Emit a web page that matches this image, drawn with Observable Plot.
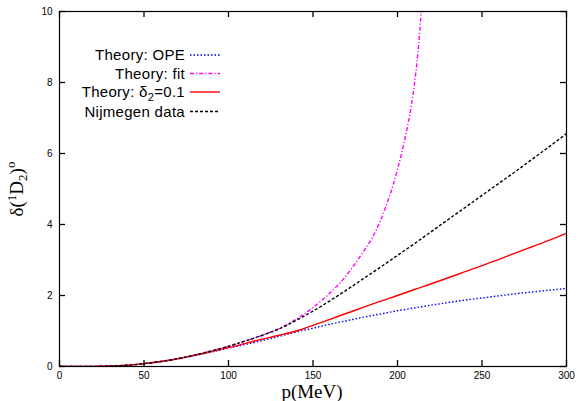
<!DOCTYPE html>
<html>
<head>
<meta charset="utf-8">
<script src="https://cdn.jsdelivr.net/npm/d3@7"></script>
<script src="https://cdn.jsdelivr.net/npm/@observablehq/plot@0.6"></script>
<style>
  html, body { margin: 0; padding: 0; background: #fff; }
  #chart { width: 578px; height: 401px; }
</style>
</head>
<body>
<div id="chart"></div>
<script>
// Momentum grid (MeV)
const pGrid = [0, 10, 20, 30, 40, 50, 60, 70, 80, 90, 100, 110, 120, 130, 140, 150, 160, 170, 180, 190, 200, 210, 220, 230, 240, 250, 260, 270, 280, 290, 300];
// Theory: OPE (degrees)
const opeValues = [0, 0.0, 0.003, 0.012, 0.035, 0.08, 0.14, 0.22, 0.31, 0.41, 0.52, 0.62, 0.73, 0.85, 0.97, 1.08, 1.19, 1.29, 1.39, 1.48, 1.57, 1.65, 1.73, 1.80, 1.87, 1.93, 1.99, 2.05, 2.10, 2.15, 2.20];
// Theory: delta2 = 0.1
const d2Values = [0, 0.0, 0.003, 0.012, 0.035, 0.08, 0.14, 0.22, 0.32, 0.42, 0.53, 0.65, 0.77, 0.88, 1.00, 1.16, 1.33, 1.50, 1.67, 1.84, 2.00, 2.17, 2.33, 2.50, 2.67, 2.84, 3.02, 3.20, 3.38, 3.56, 3.75];
// Nijmegen data
const nijValues = [0, 0.0, 0.003, 0.012, 0.035, 0.08, 0.14, 0.22, 0.32, 0.44, 0.57, 0.72, 0.88, 1.06, 1.30, 1.56, 1.85, 2.16, 2.48, 2.80, 3.13, 3.46, 3.80, 4.14, 4.48, 4.82, 5.16, 5.50, 5.85, 6.20, 6.56];
// Theory: fit (own grid, rises steeply)
const pFit = [0, 10, 20, 30, 40, 50, 60, 70, 80, 90, 100, 110, 120, 130, 140, 150, 160, 170, 175, 180, 185, 190, 195, 200, 205, 208, 210, 212, 213, 214, 215];
const fitValues = [0, 0.0, 0.003, 0.012, 0.035, 0.08, 0.14, 0.22, 0.32, 0.44, 0.57, 0.72, 0.88, 1.07, 1.33, 1.66, 2.07, 2.58, 2.90, 3.25, 3.62, 4.12, 4.76, 5.55, 6.55, 7.30, 7.95, 8.80, 9.35, 10.0, 10.8];

const xTicks = [0, 50, 100, 150, 200, 250, 300];
const yTicks = [0, 2, 4, 6, 8, 10];

const seriesNames = ["Theory: OPE", "Theory: fit", "Theory: δ2=0.1", "Nijmegen data"];
const seriesColors = ["#0000ff", "#ff00ff", "#ff0000", "#000000"];
const seriesDash = ["1.5,2", "4,2,1.2,2", null, "3,2"];

const toRows = (ps, vs) => ps.map((p, i) => ({p, v: vs[i]}));
const allRows = [toRows(pGrid, opeValues), toRows(pFit, fitValues), toRows(pGrid, d2Values), toRows(pGrid, nijValues)];

const tickFont = "Liberation Sans, Arial, Helvetica, sans-serif";
const W = 578, H = 401, mL = 59, mR = 12, mT = 11, mB = 35;
const frameW = W - mL - mR, frameH = H - mT - mB, tickLen = 6;

const chart = Plot.plot({
  width: W,
  height: H,
  marginLeft: mL,
  marginRight: mR,
  marginTop: mT,
  marginBottom: mB,
  style: {fontFamily: tickFont, fontSize: "10px", color: "#000", background: "#fff", overflow: "visible"},
  x: {domain: [0, 300]},
  y: {domain: [0, 10]},
  marks: [
    Plot.axisX(xTicks, {tickSize: 0, tickPadding: 5, label: null, fontSize: 10}),
    Plot.axisY(yTicks, {tickSize: 0, tickPadding: 7, label: null, fontSize: 10}),
    ...allRows.map((rows, i) => Plot.line(rows, {
      x: "p", y: "v",
      stroke: seriesColors[i],
      strokeWidth: 1.4,
      strokeDasharray: seriesDash[i],
      strokeLinecap: "butt",
      curve: "monotone-x",
      clip: true
    })),
    // inward ticks on all four sides
    Plot.tickX(xTicks, {x: d => d, insetTop: frameH - tickLen, stroke: "#000", strokeWidth: 1.3}),
    Plot.tickX(xTicks, {x: d => d, insetBottom: frameH - tickLen, stroke: "#000", strokeWidth: 1.3}),
    Plot.tickY(yTicks, {y: d => d, insetRight: frameW - tickLen, stroke: "#000", strokeWidth: 1.3}),
    Plot.tickY(yTicks, {y: d => d, insetLeft: frameW - tickLen, stroke: "#000", strokeWidth: 1.3}),
    Plot.frame({stroke: "#000", strokeWidth: 1.2})
  ]
});

document.getElementById("chart").appendChild(chart);

const svg = d3.select(chart);
const serif = "Liberation Serif, Times New Roman, Times, serif";

// x axis label
svg.append("text")
  .attr("x", 312).attr("y", 397.5)
  .attr("text-anchor", "middle")
  .attr("font-family", serif).attr("font-size", 19)
  .attr("fill", "#000")
  .text("p(MeV)");

// y axis label δ(¹D₂)°
const yl = svg.append("text")
  .attr("transform", "translate(23,189) rotate(-90)")
  .attr("text-anchor", "middle")
  .attr("font-family", serif).attr("font-size", 19)
  .attr("fill", "#000");
yl.append("tspan").text("δ(");
yl.append("tspan").attr("font-size", 13).attr("dy", -7).text("1");
yl.append("tspan").attr("dy", 7).text("D");
yl.append("tspan").attr("font-size", 13).attr("dy", 4).text("2");
yl.append("tspan").attr("dy", -4).text(")");
yl.append("tspan").attr("font-size", 13).attr("dy", -8).text("o");

// legend
const legend = svg.append("g").attr("font-family", tickFont).attr("font-size", 15).attr("letter-spacing", "0.3px").attr("fill", "#000");
const rowY = [55, 73.5, 92, 111.5];
seriesNames.forEach((name, i) => {
  const y = rowY[i];
  const t = legend.append("text")
    .attr("x", 185).attr("y", y + 5)
    .attr("text-anchor", "end");
  if (name.includes("δ2")) {
    t.append("tspan").text("Theory: δ");
    t.append("tspan").attr("font-size", 11).attr("dy", 4).text("2");
    t.append("tspan").attr("dy", -4).text("=0.1");
  } else {
    t.text(name);
  }
  legend.append("line")
    .attr("x1", 190).attr("x2", 220)
    .attr("y1", y).attr("y2", y)
    .attr("stroke", seriesColors[i])
    .attr("stroke-width", 1.4)
    .attr("stroke-dasharray", seriesDash[i]);
});
</script>
</body>
</html>
